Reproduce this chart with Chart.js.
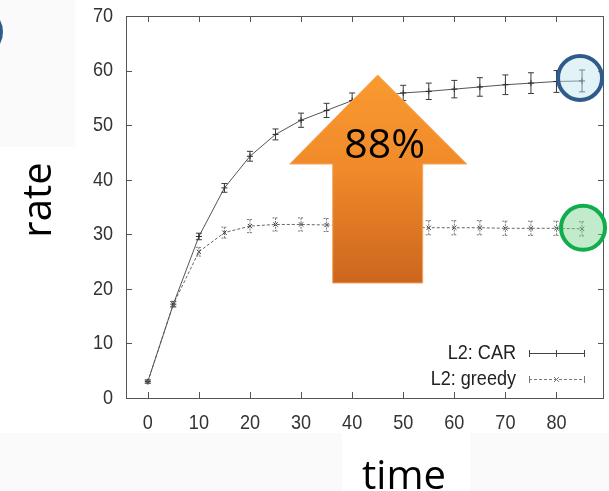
<!DOCTYPE html>
<html>
<head>
<meta charset="utf-8">
<script src="https://cdn.jsdelivr.net/npm/chart.js@4"></script>
<style>
  html, body { margin: 0; padding: 0; background: #fff; }
  #wrap { width: 609px; height: 491px; }
</style>
</head>
<body>
<div id="wrap"><canvas id="rateChart" width="609" height="491"></canvas></div>
<script>
// values
const times = [0, 5, 10, 15, 20, 25, 30, 35, 40, 45, 50, 55, 60, 65, 70, 75, 80, 85];
const carRate = [3.0, 17.2, 29.6, 38.5, 44.3, 48.3, 50.9, 52.7, 54.5, 55.3, 55.9, 56.2, 56.6, 57.0, 57.4, 57.7, 58.0, 58.1];
const carErr = [0.3, 0.5, 0.6, 0.8, 0.9, 1.0, 1.3, 1.3, 1.4, 1.4, 1.4, 1.5, 1.6, 1.7, 1.8, 1.9, 2.0, 2.0];
const greedyRate = [3.0, 17.2, 26.8, 30.3, 31.5, 31.8, 31.8, 31.7, 31.6, 31.4, 31.3, 31.2, 31.2, 31.2, 31.1, 31.1, 31.1, 31.0];
const greedyErr = [0.3, 0.5, 0.8, 1.0, 1.2, 1.2, 1.2, 1.2, 1.3, 1.3, 1.3, 1.3, 1.3, 1.3, 1.3, 1.3, 1.3, 1.3];
const xTicks = [0, 10, 20, 30, 40, 50, 60, 70, 80];
const yTicks = [0, 10, 20, 30, 40, 50, 60, 70];
const seriesNames = ["L2: CAR", "L2: greedy"];
const gainLabel = "88%";

const narrowFont = "21px 'Liberation Sans', Arial, sans-serif";
const bigFont = "'Open Sans', 'Noto Sans', sans-serif";

function pts(ys) {
    return times.map((t, i) => ({ x: t, y: ys[i] }));
}

// gnuplot-ish condensed labels: squeeze Liberation Sans sideways
function narrowText(ctx, txt, x, y, align) {
    ctx.save();
    ctx.font = narrowFont;
    ctx.textBaseline = "middle";
    ctx.textAlign = align;
    ctx.translate(x, y);
    ctx.scale(0.86, 1);
    ctx.fillText(txt, 0, 0);
    ctx.restore();
}

const backdrop = {
    id: "backdrop",
    beforeDraw(chart) {
        let ctx = chart.ctx;
        ctx.save();
        ctx.fillStyle = "#ffffff";
        ctx.fillRect(0, 0, chart.width, chart.height);
        ctx.fillStyle = "#fafafa";
        ctx.fillRect(0, 0, 75, 147);
        ctx.fillRect(0, 433, 342, 58);
        ctx.fillRect(470, 433, 139, 58);
        ctx.restore();
    }
};

const errorBars = {
    id: "errorBars",
    afterDatasetsDraw(chart) {
        let ctx = chart.ctx;
        let xs = chart.scales.x, ys = chart.scales.y;
        let sets = [[carRate, carErr, "#3a3a3a", []], [greedyRate, greedyErr, "#777777", [2, 1]]];
        ctx.save();
        ctx.lineWidth = 1;
        sets.forEach(([vals, errs, col, dash]) => {
            ctx.strokeStyle = col;
            ctx.setLineDash(dash);
            times.forEach((t, i) => {
                let px = xs.getPixelForValue(t);
                let top = ys.getPixelForValue(vals[i] + errs[i]);
                let bot = ys.getPixelForValue(vals[i] - errs[i]);
                ctx.beginPath();
                ctx.moveTo(px, top); ctx.lineTo(px, bot);
                ctx.moveTo(px - 3, top); ctx.lineTo(px + 3, top);
                ctx.moveTo(px - 3, bot); ctx.lineTo(px + 3, bot);
                ctx.stroke();
            });
        });
        ctx.restore();
    }
};

const frame = {
    id: "frame",
    afterDraw(chart) {
        let ctx = chart.ctx;
        let a = chart.chartArea;
        let xs = chart.scales.x, ys = chart.scales.y;
        ctx.save();
        ctx.strokeStyle = "#555555";
        ctx.lineWidth = 1;
        ctx.strokeRect(a.left + 0.5, a.top + 0.5, a.right - a.left - 1, a.bottom - a.top);
        ctx.beginPath();
        xTicks.forEach(v => {
            let px = Math.round(xs.getPixelForValue(v)) + 0.5;
            ctx.moveTo(px, a.bottom); ctx.lineTo(px, a.bottom - 6);
            ctx.moveTo(px, a.top); ctx.lineTo(px, a.top + 6);
        });
        yTicks.forEach(v => {
            let py = Math.round(ys.getPixelForValue(v)) + 0.5;
            ctx.moveTo(a.left, py); ctx.lineTo(a.left + 6, py);
            ctx.moveTo(a.right, py); ctx.lineTo(a.right - 6, py);
        });
        ctx.stroke();

        // tick labels
        ctx.fillStyle = "#333";
        xTicks.forEach(v => narrowText(ctx, String(v), xs.getPixelForValue(v), a.bottom + 25, "center"));
        yTicks.forEach(v => narrowText(ctx, String(v), a.left - 13, ys.getPixelForValue(v), "right"));

        // legend
        ctx.fillStyle = "#222";
        let rows = [[353, [], "#444", "cross"], [379, [3, 2], "#777", "crossRot"]];
        rows.forEach(([y, dash, col, shape], k) => {
            narrowText(ctx, seriesNames[k], 516, y, "right");
            ctx.strokeStyle = col;
            ctx.setLineDash(dash);
            ctx.beginPath();
            ctx.moveTo(529, y + 0.5); ctx.lineTo(584, y + 0.5);
            ctx.stroke();
            ctx.setLineDash([]);
            ctx.beginPath();
            ctx.moveTo(529.5, y - 3); ctx.lineTo(529.5, y + 4);
            ctx.moveTo(584.5, y - 3); ctx.lineTo(584.5, y + 4);
            if (shape === "cross") {
                ctx.moveTo(556.5, y - 3); ctx.lineTo(556.5, y + 4);
            } else {
                ctx.moveTo(554, y - 2); ctx.lineTo(559, y + 3);
                ctx.moveTo(559, y - 2); ctx.lineTo(554, y + 3);
            }
            ctx.stroke();
        });

        // circles around the last points
        let lastX = xs.getPixelForValue(times[times.length - 1]);
        let blueY = ys.getPixelForValue(carRate[carRate.length - 1]);
        let greenY = ys.getPixelForValue(greedyRate[greedyRate.length - 1]);
        ctx.lineWidth = 4;
        ctx.fillStyle = "rgba(190, 228, 240, 0.45)";
        ctx.strokeStyle = "#2f5a8c";
        ctx.beginPath(); ctx.arc(lastX - 2, blueY - 3, 22, 0, Math.PI * 2); ctx.fill(); ctx.stroke();
        ctx.fillStyle = "rgba(120, 210, 140, 0.45)";
        ctx.strokeStyle = "#10ad4c";
        ctx.beginPath(); ctx.arc(lastX + 1, greenY - 1, 22, 0, Math.PI * 2); ctx.fill(); ctx.stroke();
        ctx.strokeStyle = "#2f5a8c";
        ctx.beginPath(); ctx.arc(-22, 32, 23, 0, Math.PI * 2); ctx.stroke();

        // the big arrow
        let ax = xs.getPixelForValue(45);
        let tipY = 75, baseY = 164, botY = 283;
        let grad = ctx.createLinearGradient(0, tipY, 0, botY);
        grad.addColorStop(0, "#f99a2f");
        grad.addColorStop(0.45, "#f08a2a");
        grad.addColorStop(1, "#cc661e");
        ctx.fillStyle = grad;
        ctx.strokeStyle = "#f6a55a";
        ctx.lineWidth = 1;
        ctx.beginPath();
        ctx.moveTo(ax, tipY);
        ctx.lineTo(ax + 89, baseY);
        ctx.lineTo(ax + 45, baseY);
        ctx.lineTo(ax + 45, botY);
        ctx.lineTo(ax - 45, botY);
        ctx.lineTo(ax - 45, baseY);
        ctx.lineTo(ax - 88, baseY);
        ctx.closePath();
        ctx.fill();
        ctx.stroke();

        ctx.fillStyle = "#000";
        ctx.textAlign = "center";
        ctx.textBaseline = "alphabetic";
        ctx.font = "41px " + bigFont;
        ctx.fillText(gainLabel, ax + 7, 158);

        // axis titles
        ctx.font = "40px " + bigFont;
        ctx.fillText("time", 404, 489);
        ctx.save();
        ctx.translate(51, 200);
        ctx.rotate(-Math.PI / 2);
        ctx.fillText("rate", 0, 0);
        ctx.restore();
        ctx.restore();
    }
};

new Chart(document.getElementById("rateChart"), {
    type: "line",
    data: {
        datasets: [{
            label: seriesNames[0],
            data: pts(carRate),
            borderColor: "#555555",
            borderWidth: 1,
            pointStyle: "cross",
            pointRadius: 3,
            pointBorderColor: "#222",
            pointBorderWidth: 1,
            tension: 0
        }, {
            label: seriesNames[1],
            data: pts(greedyRate),
            borderColor: "#666666",
            borderWidth: 1,
            borderDash: [3, 2],
            pointStyle: "crossRot",
            pointRadius: 3,
            pointBorderColor: "#333",
            pointBorderWidth: 1,
            tension: 0
        }]
    },
    options: {
        responsive: false,
        animation: false,
        layout: { padding: { left: 0, top: 16, right: 1, bottom: 0 } },
        plugins: { legend: { display: false }, tooltip: { enabled: false } },
        scales: {
            x: {
                type: "linear",
                min: -4.27,
                max: 89.3,
                afterFit(s) { s.height = 93; },
                afterBuildTicks(s) { s.ticks = xTicks.map(v => ({ value: v })); },
                grid: { display: false, drawTicks: false },
                border: { display: false },
                ticks: { display: false }
            },
            y: {
                min: 0,
                max: 70,
                afterFit(s) { s.width = 126; },
                afterBuildTicks(s) { s.ticks = yTicks.map(v => ({ value: v })); },
                grid: { display: false, drawTicks: false },
                border: { display: false },
                ticks: { display: false }
            }
        }
    },
    plugins: [backdrop, errorBars, frame]
});
</script>
</body>
</html>
